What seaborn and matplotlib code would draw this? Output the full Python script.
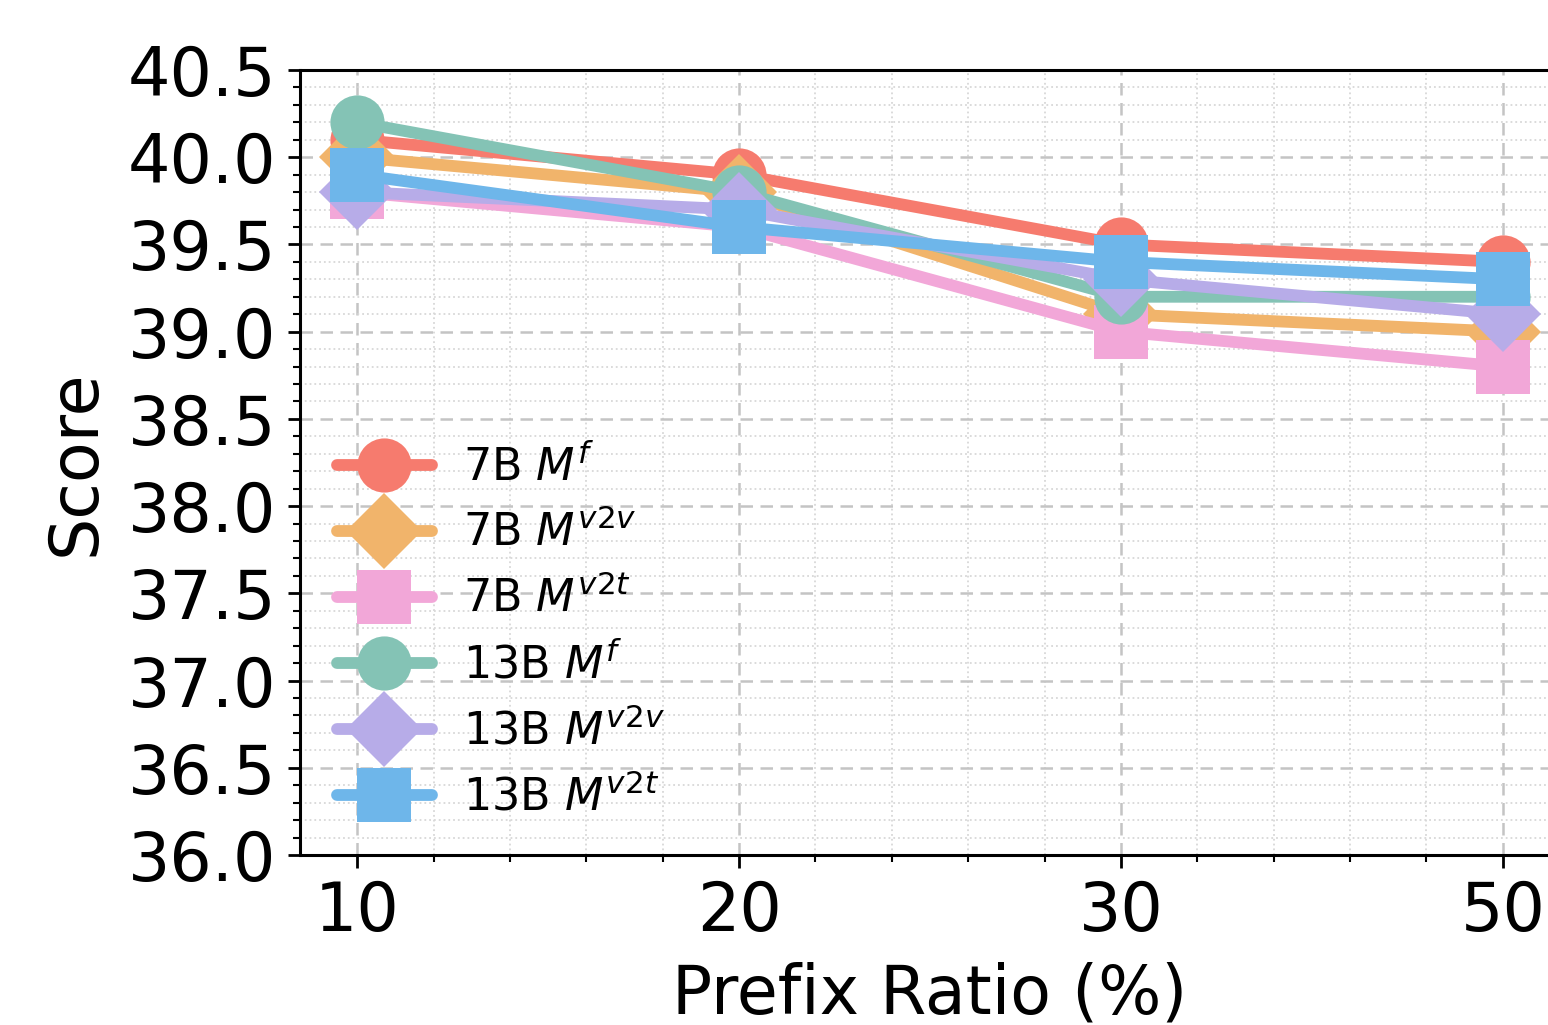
import matplotlib
matplotlib.use("Agg")
import matplotlib.pyplot as plt
import seaborn as sns
import pandas as pd
from matplotlib.ticker import MultipleLocator, FormatStrFormatter

categories = ["10", "20", "30", "50"]
series_names = [r"7B $M^{f}$", r"7B $M^{v2v}$", r"7B $M^{v2t}$",
                r"13B $M^{f}$", r"13B $M^{v2v}$", r"13B $M^{v2t}$"]
s_7b_f = [40.1, 39.9, 39.5, 39.4]
s_7b_v2v = [40.0, 39.8, 39.1, 39.0]
s_7b_v2t = [39.8, 39.6, 39.0, 38.8]
s_13b_f = [40.2, 39.8, 39.2, 39.2]
s_13b_v2v = [39.8, 39.7, 39.3, 39.1]
s_13b_v2t = [39.9, 39.6, 39.4, 39.3]
all_series = [s_7b_f, s_7b_v2v, s_7b_v2t, s_13b_f, s_13b_v2v, s_13b_v2t]

colors = ["#F67B6E", "#F1B46B", "#F2A7D8", "#84C3B5", "#B7ACE8", "#6EB6EA"]
marker_list = ["o", "D", "s", "o", "D", "s"]

rows = []
for name, vals in zip(series_names, all_series):
    for i, (c, v) in enumerate(zip(categories, vals)):
        rows.append({"pos": i, "ratio": c, "score": v, "series": name})
df = pd.DataFrame(rows)

sns.set_theme(style="ticks")
plt.rcParams["font.family"] = ["DejaVu Sans"]
plt.rcParams["mathtext.fontset"] = "dejavusans"
for key in ["text.color", "axes.labelcolor", "xtick.color", "ytick.color"]:
    plt.rcParams[key] = "black"

fig = plt.figure(figsize=(15.48, 10.25), dpi=100)
ax = fig.add_axes([0.1938, 0.1659, 0.8140, 0.7658])

sns.lineplot(data=df, x="pos", y="score", hue="series", style="series",
             hue_order=series_names, style_order=series_names,
             palette=colors, markers=dict(zip(series_names, marker_list)),
             dashes=False, markersize=39, linewidth=8.5, markeredgewidth=0,
             ax=ax, legend="full")

ax.set_xlim(-0.15, 3.15)
ax.set_ylim(36.0, 40.5)
ax.set_xticks(range(len(categories)))
ax.set_xticklabels(categories)
ax.xaxis.set_minor_locator(MultipleLocator(0.2))
ax.yaxis.set_major_locator(MultipleLocator(0.5))
ax.yaxis.set_minor_locator(MultipleLocator(0.1))
ax.yaxis.set_major_formatter(FormatStrFormatter("%.1f"))

ax.grid(which="major", linestyle=(0, (5, 3)), color="#c4c4c4", linewidth=1.8)
ax.grid(which="minor", linestyle=":", color="#d8d8d8", linewidth=1.3)
ax.set_axisbelow(True)

for side in ["left", "bottom", "top"]:
    ax.spines[side].set_color("black")
    ax.spines[side].set_linewidth(2.2)
ax.spines["right"].set_visible(False)

ax.tick_params(axis="both", which="major", labelsize=48, length=9, width=2,
               color="black", labelcolor="black", direction="out", pad=8)
ax.tick_params(axis="both", which="minor", length=5, width=1.5, color="black")
ax.tick_params(top=False, which="both")

ax.set_xlabel("Prefix Ratio (%)", fontsize=48, labelpad=12, color="black")
ax.set_ylabel("Score", fontsize=48, labelpad=14, color="black")

handles, labels = ax.get_legend_handles_labels()
leg = ax.legend(handles, labels, loc="upper left", bbox_to_anchor=(0.015, 0.545),
                frameon=False, fontsize=32, handlelength=2.15, handletextpad=0.7,
                labelspacing=0.48, borderaxespad=0)
for t in leg.get_texts():
    t.set_color("black")

fig.savefig("out.png", dpi=100)
